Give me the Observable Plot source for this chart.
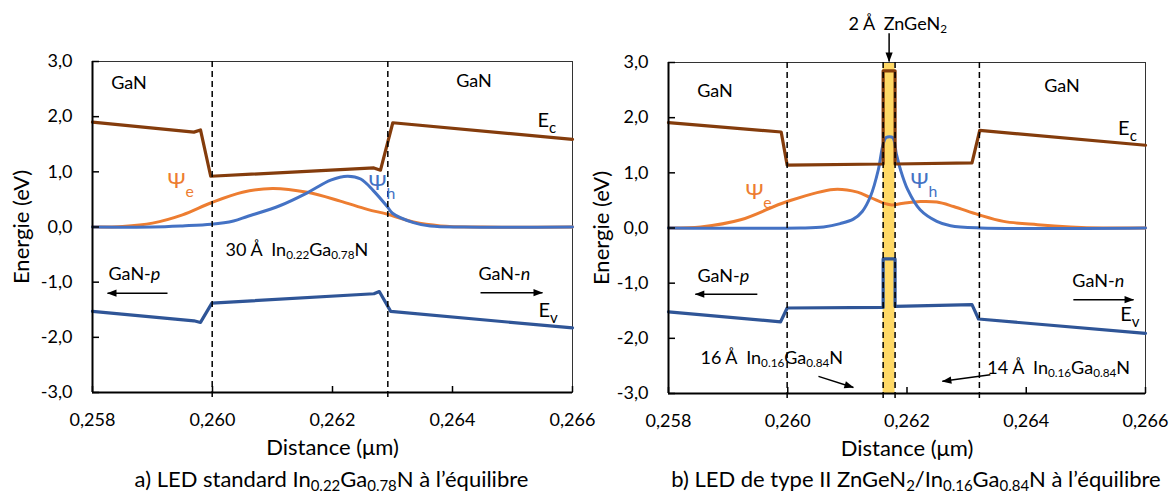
<!DOCTYPE html>
<html><head><meta charset="utf-8">
<script src="https://cdn.jsdelivr.net/npm/d3@7"></script>
<script src="https://cdn.jsdelivr.net/npm/@observablehq/plot@0.6"></script>
<style>
body{margin:0;background:#fff;}
#root{position:relative;width:1169px;height:493px;overflow:hidden;background:#fff;font-family:Lato,sans-serif;}
.cap{position:absolute;top:465px;width:700px;text-align:center;font-size:22px;line-height:27px;color:#000;white-space:nowrap;}
.cap .sub{font-size:0.68em;position:relative;top:0.3em;}
</style></head><body><div id="root"></div>
<script>
// ---------- shared ticks ----------
const xTicks = [0.258, 0.260, 0.262, 0.264, 0.266];
const yTicks = [-3, -2, -1, 0, 1, 2, 3];
const axisTitles = ["Energie (eV)", "Distance (μm)"];

// ---------- panel a : standard InGaN LED ----------
const ecA = [[0.258,1.90],[0.25969,1.72],[0.2598,1.76],[0.25997,0.92],[0.26269,1.07],[0.2628,1.03],[0.263005,1.89],[0.266,1.59]];
const evA = [[0.258,-1.53],[0.25969,-1.70],[0.2598,-1.73],[0.25999,-1.38],[0.26269,-1.21],[0.26278,-1.17],[0.26297,-1.53],[0.266,-1.83]];
const psiEA = [[0.258,0],[0.2585,0.01],[0.259,0.07],[0.2595,0.22],[0.25998,0.44],[0.2605,0.63],[0.2610,0.70],[0.26158,0.63],[0.26213,0.47],[0.26258,0.32],[0.26292,0.23],[0.26335,0.09],[0.2638,0.02],[0.2645,0],[0.266,0]];
const psiHA = [[0.258,0],[0.259,0],[0.2595,0.02],[0.25998,0.05],[0.26035,0.11],[0.26058,0.19],[0.26113,0.39],[0.26158,0.62],[0.26197,0.85],[0.26225,0.92],[0.26247,0.87],[0.26268,0.66],[0.26292,0.36],[0.263,0.25],[0.26335,0.08],[0.26363,0.02],[0.2642,0],[0.266,0]];
const interfacesA = [0.259995, 0.262922];
const midLabelsA = [[0.258608,2.61,"GaN"],[0.264358,2.64,"GaN"]];
const startLabelsA = [[0.258267,-0.85,"GaN-*{p}"],[0.264433,-0.85,"GaN-*{n}"],[0.260217,-0.43,"30 Å\u00a0\u00a0In_{0.22}Ga_{0.78}N"]];
const bandLabelsA = [[0.265417,1.92,"E_{c|6|0.75}"],[0.265433,-1.52,"E_{v|6|0.75}"]];
const psiELabelA = [[0.25925,0.83,"Ψ_{e|9|0.72}"]];
const psiHLabelA = [[0.2626,0.80,"Ψ_{h|9|0.72}"]];
const arrowsA = [[0.25925,-1.2,0.25825,-1.2],[0.264467,-1.19,0.2655,-1.19]];

// ---------- panel b : type II ZnGeN2 / InGaN LED ----------
const ecB = [[0.258,1.91],[0.25989,1.74],[0.25999,1.14],[0.2616,1.16],[0.2616,2.85],[0.2618,2.85],[0.2618,1.16],[0.26309,1.18],[0.26322,1.77],[0.266,1.50]];
const evB = [[0.258,-1.52],[0.25988,-1.70],[0.25999,-1.45],[0.2616,-1.44],[0.2616,-0.56],[0.2618,-0.56],[0.2618,-1.42],[0.26309,-1.39],[0.2632,-1.65],[0.266,-1.91]];
const psiEB = [[0.258,0],[0.25854,0.02],[0.25921,0.15],[0.25999,0.48],[0.26077,0.70],[0.26117,0.65],[0.26139,0.55],[0.26172,0.42],[0.26194,0.45],[0.26222,0.48],[0.2625,0.47],[0.26278,0.39],[0.2632,0.24],[0.26362,0.12],[0.26419,0.06],[0.26474,0.02],[0.26529,0],[0.266,0]];
const psiHB = [[0.258,0],[0.26021,0],[0.2606,0.02],[0.26088,0.08],[0.2611,0.16],[0.26125,0.30],[0.26139,0.58],[0.26152,1.06],[0.2616,1.52],[0.26165,1.64],[0.26176,1.64],[0.26182,1.35],[0.26189,1.06],[0.26201,0.70],[0.26222,0.33],[0.2625,0.12],[0.26273,0.04],[0.26323,0],[0.266,0]];
const interfacesB = [0.25999, 0.2616, 0.2618, 0.263214];
const layerB = [[0.2616, 0.2618]];
const midLabelsB = [[0.25878,2.48,"GaN"],[0.2646,2.57,"GaN"]];
const startLabelsB = [[0.258486,-0.88,"GaN-*{p}"],[0.264773,-0.97,"GaN-*{n}"],[0.258536,-2.36,"16 Å\u00a0\u00a0In_{0.16}Ga_{0.84}N"],[0.263348,-2.54,"14 Å\u00a0\u00a0In_{0.16}Ga_{0.84}N"],[0.261018,3.69,"2 Å\u00a0\u00a0ZnGeN_{2}"]];
const bandLabelsB = [[0.26554,1.81,"E_{c|6|0.75}"],[0.265577,-1.57,"E_{v|6|0.75}"]];
const psiELabelB = [[0.25929,0.66,"Ψ_{e|9|0.72}"]];
const psiHLabelB = [[0.26206,0.85,"Ψ_{h|9|0.72}"]];
const arrowsB = [[0.25949,-1.2,0.25845,-1.2],[0.26479,-1.3,0.2658,-1.3],[0.260515,-2.69,0.261101,-2.89],[0.263398,-2.66,0.262593,-2.78],[0.2617,3.53,0.2617,3.02]];

const captions = [
  'a) LED standard In<span class="sub">0.22</span>Ga<span class="sub">0.78</span>N à l’équilibre',
  'b) LED de type II ZnGeN<span class="sub">2</span>/In<span class="sub">0.16</span>Ga<span class="sub">0.84</span>N à l’équilibre'
];

// ---------- drawing ----------
const H = 460;
const FONT = "Lato, 'Open Sans', sans-serif";
const C = {ec:"#843C0C", ev:"#2F5597", pe:"#ED7D31", ph:"#4472C4", layer:"#FFD966"};
const px = d => d[0], py = d => d[1], pt = d => d[2];

function panel(cfg) {
  const fw = cfg.width - cfg.marginLeft - cfg.marginRight;
  const fh = H - cfg.marginTop - cfg.marginBottom;
  const marks = [];
  if (cfg.layer) marks.push(Plot.rect(cfg.layer, {x1: d => d[0], x2: d => d[1], y1: () => yTicks[0], y2: () => yTicks[yTicks.length-1], fill: C.layer}));
  marks.push(
    Plot.frame({stroke: "#333", strokeWidth: 1}),
    Plot.line(cfg.psiE, {x: px, y: py, stroke: C.pe, strokeWidth: 3, curve: "catmull-rom"}),
    Plot.line(cfg.psiH, {x: px, y: py, stroke: C.ph, strokeWidth: 3, curve: "catmull-rom"}),
    Plot.line(cfg.ec, {x: px, y: py, stroke: C.ec, strokeWidth: 3.2, strokeLinejoin: "round"}),
    Plot.line(cfg.ev, {x: px, y: py, stroke: C.ev, strokeWidth: 3.2, strokeLinejoin: "round"}),
    Plot.ruleX(cfg.interfaces, {y1: () => 3, y2: () => -3.15, stroke: "black", strokeWidth: 1.5, strokeDasharray: "6,4"}),
    Plot.ruleX([xTicks[0]], {stroke: "black", strokeWidth: 2}),
    Plot.ruleY([yTicks[0]], {stroke: "black", strokeWidth: 2}),
    Plot.tickY(yTicks, {y: d => d, stroke: "black", strokeWidth: 1.5, insetRight: fw - 7}),
    Plot.tickX(xTicks, {x: d => d, stroke: "black", strokeWidth: 1.5, insetTop: fh - 6}),
    Plot.axisY(yTicks, {tickSize: 0, tickPadding: 20, tickFormat: d => d.toFixed(1).replace(".", ","), label: null}),
    Plot.axisX(xTicks, {tickSize: 0, tickPadding: 21, tickFormat: d => d.toFixed(3).replace(".", ","), label: null}),
    Plot.text([axisTitles[0]], {frameAnchor: "left", dx: -(cfg.marginLeft - cfg.titleX), rotate: -90, textAnchor: "middle", lineAnchor: "middle", fontSize: 22}),
    Plot.text([axisTitles[1]], {frameAnchor: "bottom", dy: 55, textAnchor: "middle", lineAnchor: "middle", fontSize: 22}),
    Plot.text(cfg.midLabels, {x: px, y: py, text: pt, textAnchor: "middle", fontSize: 18}),
    Plot.text(cfg.startLabels, {x: px, y: py, text: pt, textAnchor: "start", fontSize: 18}),
    Plot.text(cfg.bandLabels, {x: px, y: py, text: pt, textAnchor: "start", fontSize: 20}),
    Plot.text(cfg.psiELabel, {x: px, y: py, text: pt, textAnchor: "start", fontSize: 22, fill: C.pe}),
    Plot.text(cfg.psiHLabel, {x: px, y: py, text: pt, textAnchor: "start", fontSize: 22, fill: C.ph}),
    Plot.link(cfg.arrows, {x1: d => d[0], y1: d => d[1], x2: d => d[2], y2: d => d[3], stroke: "black", strokeWidth: 1.5, markerEnd: "arrow"})
  );
  return Plot.plot({
    width: cfg.width, height: H,
    marginLeft: cfg.marginLeft, marginRight: cfg.marginRight, marginTop: cfg.marginTop, marginBottom: cfg.marginBottom,
    style: {fontFamily: FONT, fontSize: "18px", color: "black", background: "transparent", overflow: "visible"},
    x: {domain: [xTicks[0], xTicks[xTicks.length-1]]},
    y: {domain: [yTicks[0], yTicks[yTicks.length-1]]},
    marks
  });
}

const NS = "http://www.w3.org/2000/svg";
function richText(svg) {
  svg.querySelectorAll("text").forEach(t => {
    const s = t.textContent;
    if (!/[_*]\{/.test(s)) return;
    const fs = parseFloat(getComputedStyle(t).fontSize) || 18;
    t.textContent = "";
    let shift = 0;
    s.split(/([_*]\{[^}]*\})/).forEach(p => {
      if (!p) return;
      const ts = document.createElementNS(NS, "tspan");
      if (p.startsWith("_{")) {
        const [txt, dy, sc] = p.slice(2, -1).split("|");
        const off = dy ? +dy : 3;
        ts.textContent = txt;
        ts.setAttribute("font-size", (fs * (sc ? +sc : 0.65)) + "px");
        ts.setAttribute("dy", off - shift);
        shift = off;
      } else {
        if (p.startsWith("*{")) { ts.textContent = p.slice(2, -1); ts.setAttribute("font-style", "italic"); }
        else ts.textContent = p;
        if (shift) { ts.setAttribute("dy", -shift); shift = 0; }
      }
      t.appendChild(ts);
    });
  });
  svg.querySelectorAll("marker").forEach(m => {
    m.setAttribute("overflow", "visible");
    m.setAttribute("fill", "black");
    m.setAttribute("stroke", "none");
    const p = m.querySelector("path");
    if (p) p.setAttribute("d", "M-9,-3.6L0.5,0L-9,3.6Z");
  });
}

const root = document.getElementById("root");
const svgA = panel({width: 584, marginLeft: 92, marginRight: 12, marginTop: 61, marginBottom: 68, titleX: 21,
  ec: ecA, ev: evA, psiE: psiEA, psiH: psiHA, interfaces: interfacesA,
  midLabels: midLabelsA, startLabels: startLabelsA, bandLabels: bandLabelsA, psiELabel: psiELabelA, psiHLabel: psiHLabelA, arrows: arrowsA});
const svgB = panel({width: 585, marginLeft: 84, marginRight: 24, marginTop: 62, marginBottom: 67, titleX: 17, layer: layerB,
  ec: ecB, ev: evB, psiE: psiEB, psiH: psiHB, interfaces: interfacesB,
  midLabels: midLabelsB, startLabels: startLabelsB, bandLabels: bandLabelsB, psiELabel: psiELabelB, psiHLabel: psiHLabelB, arrows: arrowsB});
[[svgA, 0], [svgB, 584]].forEach(([svg, left]) => {
  svg.style.position = "absolute";
  svg.style.left = left + "px";
  svg.style.top = "0px";
  root.appendChild(svg);
  richText(svg);
});
[[captions[0], 331.5], [captions[1], 916]].forEach(([html, cx]) => {
  const d = document.createElement("div");
  d.className = "cap";
  d.style.left = (cx - 350) + "px";
  d.innerHTML = html;
  root.appendChild(d);
});
</script></body></html>
